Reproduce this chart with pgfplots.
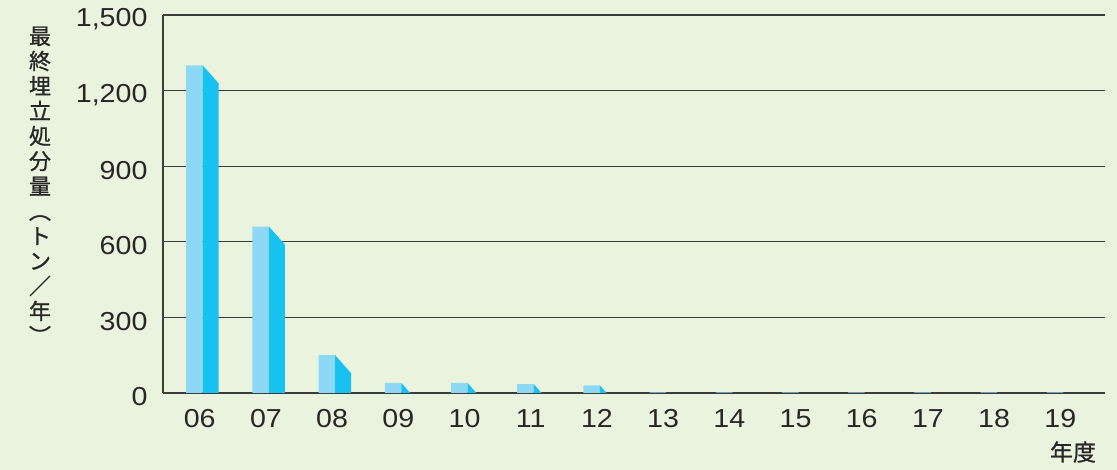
\documentclass[border=0pt]{standalone}
\usepackage{pgfplots}
\pgfplotsset{compat=1.18}
\usepackage{fontspec}
\setmainfont{Liberation Sans}[FakeStretch=1.1]
\newfontfamily\cjk{Noto Sans CJK JP}[FakeBold=0.8]
\definecolor{bg}{RGB}{234,243,222}
\definecolor{front}{RGB}{141,216,245}
\definecolor{side}{RGB}{23,194,240}
\definecolor{txt}{RGB}{40,38,38}
\begin{document}
\begin{tikzpicture}[x=1pt,y=1pt]
\fill[bg] (0,0) rectangle (1117,470);
\begin{axis}[
  at={(163pt,77pt)}, anchor=south west,
  scale only axis, width=942pt, height=378pt,
  xmin=-0.6, xmax=13.63, ymin=0, ymax=1500,
  axis x line=bottom, axis y line=left,
  axis line style={-, line width=1.2pt, color=txt!90},
  xtick={0,...,13},
  xticklabels={06,07,08,09,10,11,12,13,14,15,16,17,18,19},
  ytick={0,300,...,1500},
  major tick length=0pt,
  ymajorgrids, grid style={line width=1.1pt, color=txt!90},
  /pgf/number format/.cd, 1000 sep={,}, assume math mode=true,
  /pgfplots/.cd,
  tick label style={font=\fontsize{26}{30}\selectfont, text=txt},
  xticklabel style={yshift=-13pt, xshift=-3pt},
  yticklabel style={xshift=-12pt, yshift=-4pt},
  clip=false,
]
\addplot[ybar, bar width=0.25, bar shift=-0.125, fill=front, draw=none] coordinates {
(0,1300) (1,660) (2,150) (3,40) (4,40) (5,35) (6,30) (7,2) (8,2) (9,2) (10,2) (11,2) (12,2) (13,2)};
\addplot[fill=side, draw=none] coordinates {(0,1300) (0.24,1229) (0.24,0) (0,0)} -- cycle;
\addplot[fill=side, draw=none] coordinates {(1,660) (1.24,589) (1.24,0) (1,0)} -- cycle;
\addplot[fill=side, draw=none] coordinates {(2,150) (2.24,79) (2.24,0) (2,0)} -- cycle;
\addplot[fill=side, draw=none] coordinates {(3,40) (3.135,0) (3,0)} -- cycle;
\addplot[fill=side, draw=none] coordinates {(4,40) (4.135,0) (4,0)} -- cycle;
\addplot[fill=side, draw=none] coordinates {(5,35) (5.118,0) (5,0)} -- cycle;
\addplot[fill=side, draw=none] coordinates {(6,30) (6.101,0) (6,0)} -- cycle;
\end{axis}
\node[align=center, text=txt, font=\cjk\fontsize{22}{25}\selectfont, anchor=north] at (40,447)
 {最\\終\\埋\\立\\処\\分\\量\\︵\\ト\\ン\\／\\年\\︶};
\node[text=txt, font=\cjk\fontsize{23}{26}\selectfont] at (1073,18) {年度};
\end{tikzpicture}
\end{document}
